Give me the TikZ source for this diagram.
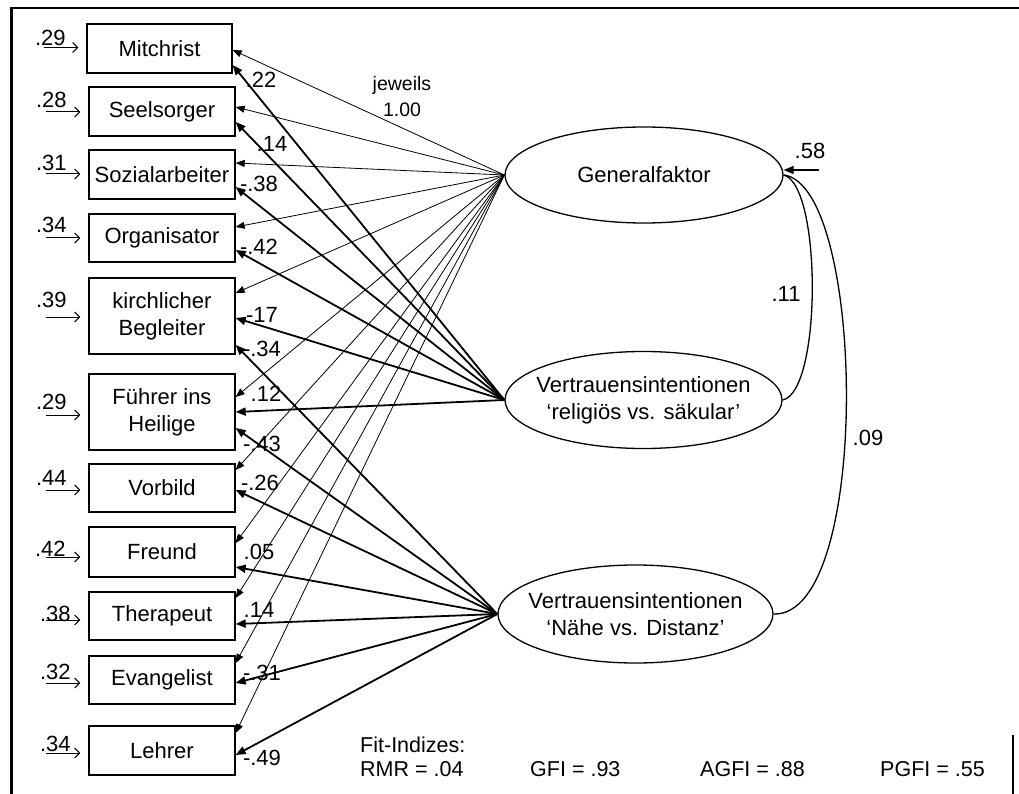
\documentclass[tikz,border=0pt]{standalone}
\usepackage{fontspec}
\setmainfont{Liberation Sans}
\usetikzlibrary{arrows.meta,shapes.geometric,calc}
\begin{document}
\begin{tikzpicture}[x=1pt,y=-1pt,
  txt/.style={font=\fontsize{22}{27}\selectfont},
  obs/.style={txt, draw, line width=1.3pt, rectangle, minimum width=146pt, minimum height=48pt, inner sep=0pt, align=center},
  lat/.style={txt, draw, line width=1.3pt, ellipse, inner sep=0pt, align=center},
  thinload/.style={line width=0.8pt, -{Triangle[length=9pt,width=7pt]}},
  thickload/.style={line width=1.8pt, -{Triangle[length=10pt,width=8pt]}},
  errarr/.style={line width=1pt, -{Straight Barb[length=5pt,width=10pt]}},
  lbl/.style={txt, inner sep=0pt},
  cov/.style={line width=1.3pt},
  fit/.style={font=\fontsize{21.5}{26}\selectfont, inner sep=0pt, anchor=west}]
\useasboundingbox (0,0) rectangle (1019,794);
% frame
\draw[line width=2.5pt] (11.5,794) -- (11.5,8) -- (1019,8);
\draw[line width=1.5pt] (1013,735) -- (1013,794);

% observed variables
\node[obs, minimum width=145pt, minimum height=49pt] (mit) at (159.5,48.5) {Mitchrist};
\node[obs, minimum height=49pt] (see) at (162,111.5) {Seelsorger};
\node[obs, minimum height=49pt] (soz) at (162,174.5) {Sozialarbeiter};
\node[obs] (org) at (162,238) {Organisator};
\node[obs, minimum height=76pt] (kir) at (162,316) {kirchlicher\\Begleiter};
\node[obs, minimum height=76pt] (fue) at (162,412) {Führer ins\\Heilige};
\node[obs] (vor) at (162,488) {Vorbild};
\node[obs, minimum height=50pt] (fre) at (162,552) {Freund};
\node[obs] (the) at (162,616) {Therapeut};
\node[obs] (eva) at (162,680) {Evangelist};
\node[obs, minimum height=49pt] (leh) at (162,750.5) {Lehrer};

% latent variables
\node[lat, minimum width=278pt, minimum height=96pt] (gen) at (644,175) {Generalfaktor};
\node[lat, minimum width=277pt, minimum height=97pt] (rel) at (643.5,400)
  {\makebox[0pt]{Vertrauensintentionen}\\\makebox[0pt]{‘religiös vs. säkular’}};
\node[lat, minimum width=275pt, minimum height=98pt] (nah) at (635.5,614)
  {\makebox[0pt]{Vertrauensintentionen}\\\makebox[0pt]{‘Nähe vs. Distanz’}};

% general factor loadings
\foreach \b/\s in {mit/-1.5, see/4.5, soz/11.5, org/11, kir/23, fue/15, vor/18, fre/9, the/18, eva/17, leh/17.5}
  \draw[thinload] (gen.west) -- ([yshift=\s pt]\b.east);

% religious vs secular loadings
\foreach \b/\s in {mit/-16.5, see/-10.5, soz/-12.5, org/-12, kir/-2, fue/0}
  \draw[thickload] (rel.west) -- ([yshift=\s pt]\b.east);

% closeness vs distance loadings
\foreach \b/\s in {kir/-29, fue/-16, vor/-2, fre/-15, the/-8, eva/-3, leh/-4.5}
  \draw[thickload] (nah.west) -- ([yshift=\s pt]\b.east);

% error terms
\foreach \b/\v/\dy/\ly/\lx in {mit/.29/-1/-11/-36, see/.28/0.5/-11.5/-37, soz/.31/-0.5/-11.5/-37, org/.34/0/-13/-37, kir/.39/1/-16/-37, fue/.29/3/-10/-37, vor/.44/2/-10/-37, fre/.42/5/-3/-38, the/.38/4/-2/-33, eva/.32/3/-8/-33, leh/.34/2.5/-7/-33}{
  \coordinate (e\b) at ($(\b.west)+(-42,\dy)$);
  \draw[errarr] (e\b) -- ($(\b.west)+(-8,\dy)$);
  \node[lbl] at ($(\b.west)+(\lx,\ly)$) {\v};
}

% loading labels
\node[lbl] at (261,80) {.22};
\node[lbl] at (272,144) {.14};
\node[lbl] at (259,184) {-.38};
\node[lbl] at (259,247) {-.42};
\node[lbl] at (262,315) {-17};
\node[lbl] at (262,349) {-.34};
\node[lbl] at (266,394) {.12};
\node[lbl] at (262,444) {-.43};
\node[lbl] at (260,483) {-.26};
\node[lbl] at (259,552) {.05};
\node[lbl] at (259,610) {.14};
\node[lbl] at (262,673) {-.31};
\node[lbl] at (262,758) {-.49};

\node[lbl, font=\fontsize{19.5}{26}\selectfont, align=center] (jew) at (402,97) {jeweils\\1.00};

% residual of general factor
\coordinate (r58) at (819,170);
\draw[thickload, line width=1.3pt] (r58) -- ([yshift=5pt]gen.east);
\node[lbl] at (810,151) {.58};

% covariances
\draw[cov] (gen.east) .. controls (822,185) and (822,392) .. (rel.east);
\draw[cov] (gen.east) .. controls (866,185) and (872,617) .. (nah.east);
\node[lbl] at (786,294) {.11};
\node[lbl] at (868,438) {.09};

% fit indices
\node[fit] at (360,745) {Fit-Indizes:};
\node[fit] at (360,769) {RMR = .04};
\node[fit] at (530,769) {GFI = .93};
\node[fit] at (700,769) {AGFI = .88};
\node[fit] at (880,769) {PGFI = .55};
\end{tikzpicture}
\end{document}
